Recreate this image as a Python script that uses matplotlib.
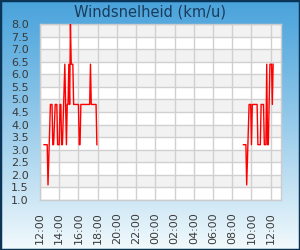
#!/usr/bin/env python3
"""
plot.py - wind speed chart (km/u) over roughly one day, saved to out.png
"""

import numpy as np
import pandas as pd
import matplotlib
matplotlib.use('Agg')
import matplotlib.pyplot as plt
import matplotlib.dates as mdates

# Data: first block on day 1, second block on day 2 (gap overnight)
day1_times = ['12:25', '12:45', '12:50', '13:05', '13:15', '13:20', '13:25',
              '13:35', '13:45', '13:50', '14:00', '14:05', '14:10', '14:15',
              '14:20', '14:35', '14:45', '14:50', '14:55', '15:00', '15:05',
              '15:10', '15:15', '15:25', '15:30', '16:00', '16:05', '16:10',
              '16:15', '17:10', '17:15', '17:20', '17:50', '17:55']
day1_values = [3.2, 3.2, 1.6, 4.8, 4.8, 3.2, 3.2,
               4.8, 4.8, 3.2, 3.2, 4.8, 4.8, 3.2,
               3.2, 6.4, 3.2, 4.8, 4.8, 6.4, 4.8,
               8.0, 6.4, 6.4, 4.8, 4.8, 3.2, 3.2,
               4.8, 4.8, 6.4, 4.8, 4.8, 3.2]

day2_times = ['09:10', '09:25', '09:30', '09:45', '09:55', '10:00', '10:05',
              '10:35', '10:40', '10:55', '11:00', '11:15', '11:20', '11:30',
              '11:35', '11:40', '11:45', '11:55', '12:05', '12:10', '12:15']
day2_values = [3.2, 3.2, 1.6, 4.8, 4.8, 3.2, 4.8,
               4.8, 3.2, 3.2, 4.8, 4.8, 3.2, 3.2,
               6.4, 3.2, 3.2, 6.4, 6.4, 4.8, 6.4]

y_ticks = [1.0, 1.5, 2.0, 2.5, 3.0, 3.5, 4.0, 4.5, 5.0, 5.5, 6.0, 6.5, 7.0, 7.5, 8.0]
title = 'Windsnelheid (km/u)'

t1 = pd.to_datetime(['2024-01-01 ' + t for t in day1_times])
t2 = pd.to_datetime(['2024-01-02 ' + t for t in day2_times])
x_start = pd.Timestamp('2024-01-01 12:00')
x_end = pd.Timestamp('2024-01-02 13:04')

fig = plt.figure(figsize=(3, 2.5), dpi=100)

# Background gradient (blue at top to almost white at bottom)
bg = fig.add_axes([0, 0, 1, 1], zorder=-10)
grad = np.linspace(0, 1, 256).reshape(-1, 1)
top = np.array([0.29, 0.64, 0.86])
bottom = np.array([0.95, 0.98, 0.99])
img = top + (bottom - top) * grad[:, :, None] ** 1.1
bg.imshow(img, aspect='auto', extent=[0, 1, 0, 1], origin='upper')
bg.set_axis_off()
bg.add_patch(plt.Rectangle((0, 0), 1, 1, transform=bg.transAxes, fill=False,
                           edgecolor='#0b3556', linewidth=2.5))

ax = fig.add_axes([0.1333, 0.2, 0.8033, 0.704])
ax.set_facecolor('white')

# Alternating horizontal bands
for lo in np.arange(1.5, 8.0, 1.0):
    ax.axhspan(lo, lo + 0.5, color='#f2f2f2', zorder=0, linewidth=0)

ax.plot(t1, day1_values, color='#ff0000', linewidth=1.0, zorder=3)
ax.plot(t2, day2_values, color='#ff0000', linewidth=1.0, zorder=3)

ax.set_xlim(x_start, x_end)
ax.set_ylim(1.0, 8.0)
ax.set_yticks(y_ticks)
ax.set_yticklabels([f'{v:.1f}' for v in y_ticks])
ax.xaxis.set_major_locator(mdates.HourLocator(byhour=range(0, 24, 2)))
ax.xaxis.set_major_formatter(mdates.DateFormatter('%H:%M'))

ax.grid(True, color='#d0d0d0', linewidth=1.0, zorder=1)
ax.set_axisbelow(True)
for side in ax.spines.values():
    side.set_color('#cccccc')
    side.set_linewidth(1.0)

ax.tick_params(axis='y', length=0, pad=8, labelsize=8, labelcolor='#3a3a3a')
ax.tick_params(axis='x', length=0, pad=9, labelsize=8, labelcolor='#3a3a3a',
               labelrotation=90)

fig.text(0.5, 0.952, title, ha='center', va='center', fontsize=10.5,
         color='#1a3c5c')

plt.savefig('out.png', dpi=100)
plt.close()
